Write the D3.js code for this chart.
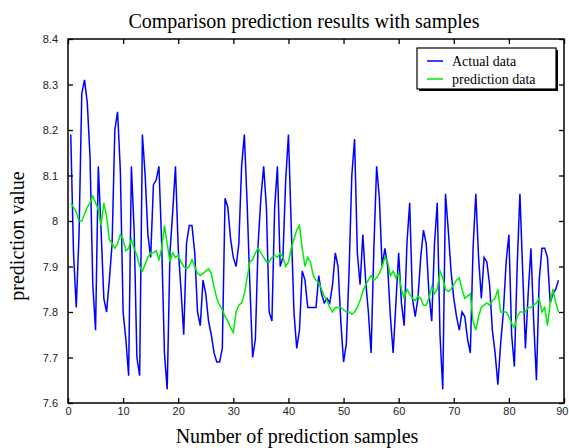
<!DOCTYPE html>
<html>
<head>
<meta charset="utf-8">
<script src="https://cdn.jsdelivr.net/npm/d3@7"></script>
<style>
  body { margin: 0; background: #fff; }
</style>
</head>
<body>
<svg id="chart"></svg>
<script>
// sample numbers run in half steps from 0.5 to 89
const sampleStep = 0.5;

// actual data (blue)
const actual = [
  8.19, 7.93, 7.81, 7.97, 8.28, 8.31, 8.26, 8.14, 7.86, 7.76,
  8.12, 7.98, 7.83, 7.80, 7.87, 7.95, 8.20, 8.24, 8.11, 7.80,
  7.74, 7.66, 8.12, 7.98, 7.70, 7.66, 8.19, 8.10, 7.97, 7.92,
  8.08, 8.09, 8.12, 7.95, 7.71, 7.63, 7.93, 8.02, 8.12, 7.94,
  7.85, 7.75, 7.95, 7.99, 7.99, 7.93, 7.80, 7.77, 7.87, 7.84,
  7.78, 7.75, 7.71, 7.69, 7.69, 7.72, 8.05, 8.03, 7.96, 7.92,
  7.90, 7.95, 8.12, 8.19, 8.04, 7.86, 7.70, 7.74, 7.95, 8.05,
  8.12, 8.03, 7.80, 7.78, 8.03, 8.12, 7.90, 7.92, 8.09, 8.19,
  7.99, 7.80, 7.72, 7.76, 7.89, 7.87, 7.81, 7.81, 7.81, 7.81,
  7.88, 7.84, 7.82, 7.83, 7.82, 7.86, 7.93, 7.90, 7.78, 7.69,
  7.73, 7.89, 8.10, 8.18, 7.93, 7.86, 7.97, 7.87, 7.80, 7.71,
  7.94, 8.12, 8.05, 7.90, 7.94, 7.90, 7.79, 7.71, 7.82, 7.93,
  7.82, 7.77, 7.95, 8.04, 7.83, 7.79, 7.83, 7.92, 7.98, 7.95,
  7.84, 7.78, 7.95, 8.04, 7.75, 7.63, 8.06, 7.98, 7.89, 7.83,
  7.79, 7.76, 7.80, 7.79, 7.74, 7.71, 7.94, 8.06, 7.92, 7.83,
  7.92, 7.91, 7.86, 7.76, 7.71, 7.64, 7.73, 7.80, 7.91, 7.97,
  7.75, 7.68, 7.90, 8.06, 7.89, 7.72, 7.84, 7.94, 7.78, 7.65,
  7.87, 7.94, 7.94, 7.92, 7.82, 7.84, 7.85, 7.87
];

// prediction data (green)
const predicted = [
  8.04, 8.03, 8.02, 8.00, 8.00, 8.015, 8.03, 8.04, 8.055, 8.04,
  8.025, 7.99, 8.04, 8.01, 7.96, 7.95, 7.94, 7.95, 7.97, 7.96,
  7.935, 7.94, 7.96, 7.94, 7.925, 7.90, 7.89, 7.905, 7.92, 7.93,
  7.93, 7.935, 7.915, 7.94, 7.99, 7.95, 7.91, 7.93, 7.92, 7.925,
  7.91, 7.90, 7.895, 7.90, 7.915, 7.90, 7.885, 7.88, 7.885, 7.89,
  7.895, 7.885, 7.855, 7.83, 7.815, 7.805, 7.79, 7.78, 7.765, 7.755,
  7.80, 7.815, 7.82, 7.84, 7.875, 7.91, 7.915, 7.93, 7.94, 7.93,
  7.92, 7.91, 7.91, 7.92, 7.925, 7.92, 7.93, 7.92, 7.90, 7.91,
  7.94, 7.96, 7.98, 7.99, 7.94, 7.90, 7.92, 7.91, 7.88, 7.87,
  7.865, 7.85, 7.835, 7.825, 7.81, 7.80, 7.81, 7.81, 7.81, 7.805,
  7.80, 7.80, 7.795, 7.80, 7.81, 7.825, 7.845, 7.86, 7.87, 7.88,
  7.87, 7.875, 7.885, 7.90, 7.92, 7.91, 7.88, 7.89, 7.875, 7.885,
  7.85, 7.83, 7.85, 7.84, 7.83, 7.825, 7.835, 7.83, 7.815, 7.815,
  7.83, 7.855, 7.84, 7.85, 7.89, 7.875, 7.85, 7.845, 7.85, 7.86,
  7.87, 7.875, 7.85, 7.83, 7.835, 7.84, 7.78, 7.76, 7.79, 7.81,
  7.815, 7.82, 7.815, 7.825, 7.83, 7.85, 7.80, 7.80, 7.80, 7.79,
  7.775, 7.765, 7.79, 7.80, 7.80, 7.80, 7.81, 7.81, 7.815, 7.82,
  7.83, 7.80, 7.81, 7.77, 7.82, 7.85, 7.82, 7.80
];

const xTicks = [0, 10, 20, 30, 40, 50, 60, 70, 80, 90];
const yTicks = [7.6, 7.7, 7.8, 7.9, 8.0, 8.1, 8.2, 8.3, 8.4];
const seriesNames = ["Actual data", "prediction data"];
const seriesColors = ["#0000ff", "#00ee00"];

const width = 569, height = 448;
const margin = { left: 68, right: 5, top: 39, bottom: 45 };

const svg = d3.select('#chart')
  .attr('width', width)
  .attr('height', height);

const x = d3.scaleLinear().domain([0, 90]).range([margin.left, width - margin.right]);
const y = d3.scaleLinear().domain([7.6, 8.4]).range([height - margin.bottom, margin.top]);

const serif = '"Liberation Serif", "Times New Roman", serif';
const sans = '"Liberation Sans", Arial, sans-serif';

// title
svg.append('text')
  .attr('x', 304).attr('y', 28)
  .attr('text-anchor', 'middle')
  .style('font-family', serif).style('font-size', '20px')
  .text('Comparison prediction results with samples');

// data lines, clipped to the frame
svg.append('clipPath').attr('id', 'clip')
  .append('rect')
  .attr('x', x(0)).attr('y', y(8.4))
  .attr('width', x(90) - x(0)).attr('height', y(7.6) - y(8.4));

const line = d3.line()
  .x((d, i) => x((i + 1) * sampleStep))
  .y(d => y(d));

const plot = svg.append('g').attr('clip-path', 'url(#clip)');

plot.append('path')
  .datum(actual)
  .attr('d', line)
  .attr('fill', 'none')
  .attr('stroke', seriesColors[0])
  .attr('stroke-width', 1.5);

plot.append('path')
  .datum(predicted)
  .attr('d', line)
  .attr('fill', 'none')
  .attr('stroke', seriesColors[1])
  .attr('stroke-width', 1.5);

// axes - inward ticks on all four sides (matlab style)
const fmtY = d => String(+d.toFixed(1));
const tickLen = 5;

const gBottom = svg.append('g')
  .attr('transform', `translate(0,${y(7.6)})`)
  .call(d3.axisBottom(x).tickValues(xTicks).tickSizeInner(-tickLen).tickSizeOuter(0).tickPadding(tickLen + 1));
const gTop = svg.append('g')
  .attr('transform', `translate(0,${y(8.4)})`)
  .call(d3.axisTop(x).tickValues(xTicks).tickSizeInner(-tickLen).tickSizeOuter(0).tickFormat(''));
const gLeft = svg.append('g')
  .attr('transform', `translate(${x(0)},0)`)
  .call(d3.axisLeft(y).tickValues(yTicks).tickFormat(fmtY).tickSizeInner(-tickLen).tickSizeOuter(0).tickPadding(tickLen + 5));
const gRight = svg.append('g')
  .attr('transform', `translate(${x(90)},0)`)
  .call(d3.axisRight(y).tickValues(yTicks).tickSizeInner(-tickLen).tickSizeOuter(0).tickFormat(''));

[gBottom, gTop, gLeft, gRight].forEach(g => {
  g.select('.domain').remove();
  g.selectAll('.tick line').attr('stroke', '#000').attr('stroke-width', 1.3);
  g.selectAll('text')
    .style('font-family', sans).style('font-size', '11px')
    .attr('fill', '#222');
});
gBottom.selectAll('text').attr('dy', '0.55em');
// keep the last label inside the window
gBottom.selectAll('.tick text').filter(d => d === 90)
  .attr('text-anchor', 'end').attr('x', 4);

// frame
svg.append('rect')
  .attr('x', x(0)).attr('y', y(8.4))
  .attr('width', x(90) - x(0)).attr('height', y(7.6) - y(8.4))
  .attr('fill', 'none')
  .attr('stroke', '#000')
  .attr('stroke-width', 1.5);

// axis labels
svg.append('text')
  .attr('x', 297).attr('y', 443)
  .attr('text-anchor', 'middle')
  .style('font-family', serif).style('font-size', '20px')
  .text('Number of prediction samples');

svg.append('text')
  .attr('transform', 'translate(24,236) rotate(-90)')
  .attr('text-anchor', 'middle')
  .style('font-family', serif).style('font-size', '20px')
  .text('prediction value');

// legend
const lg = svg.append('g');
lg.append('rect')
  .attr('x', 419).attr('y', 50).attr('width', 139).attr('height', 41)
  .attr('fill', '#000');
lg.append('rect')
  .attr('x', 417).attr('y', 48).attr('width', 139).attr('height', 41)
  .attr('fill', '#fff').attr('stroke', '#000').attr('stroke-width', 1.2);

seriesNames.forEach((name, i) => {
  const yy = 61 + i * 18;
  lg.append('line')
    .attr('x1', 427).attr('x2', 443)
    .attr('y1', yy).attr('y2', yy)
    .attr('stroke', seriesColors[i]).attr('stroke-width', 1.5);
  lg.append('text')
    .attr('x', 452).attr('y', yy + 4.5)
    .style('font-family', serif).style('font-size', '14px')
    .text(name);
});
</script>
</body>
</html>
